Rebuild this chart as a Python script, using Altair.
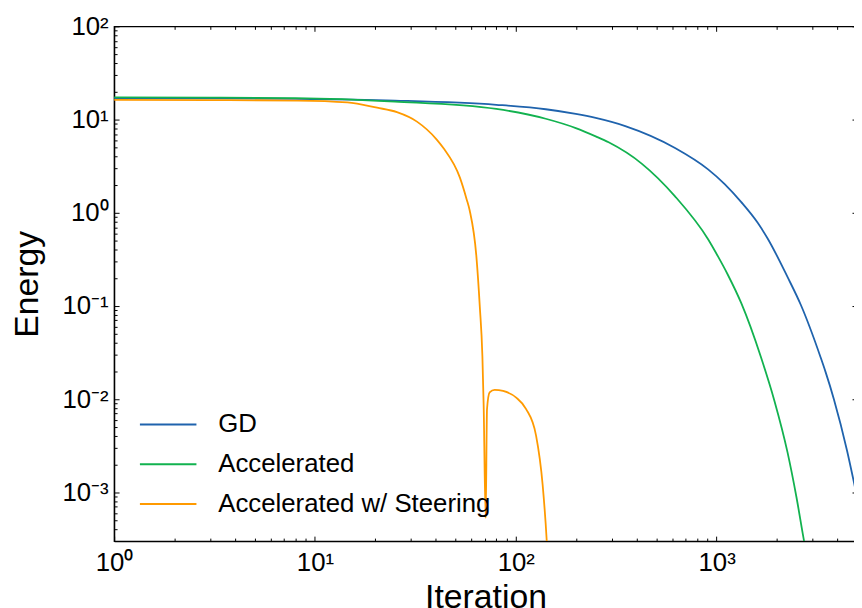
import altair as alt
import pandas as pd

# ---- data ----
gd_t = [1, 3, 8, 25, 80, 141, 199, 250, 351, 621, 907, 1097, 1327, 1602, 1795, 2254, 2625, 3297, 3490, 3837, 4463, 4911, 5000]
gd_e = [17.0, 16.9, 16.7, 16.0, 14.4, 12.9, 11.5, 10.4, 8.5, 4.95, 2.92, 2.03, 1.30, 0.78, 0.53, 0.205, 0.103, 0.028, 0.0195, 0.0100, 0.0028, 0.00108, 0.00090]

acc_t = [1, 3, 8, 25, 80, 141, 199, 250, 290, 425, 621, 907, 1016, 1139, 1327, 1665, 1938, 2254, 2500, 2726, 2900]
acc_e = [17.3, 17.2, 17.0, 15.6, 13.0, 10.2, 8.1, 6.6, 5.7, 3.35, 1.5, 0.52, 0.34, 0.215, 0.107, 0.028, 0.0097, 0.0027, 0.00088, 0.00030, 0.00015]

st_t = [1, 3, 8.2, 14.5, 20.4, 25.6, 32.2, 40.4, 43.6, 52.7, 56.9, 59.0, 63.7, 66.2, 68.2, 69.2, 70.8,
        71.9, 74.1, 78.5, 86.4, 100.5, 112.6, 126.2, 136.1, 142.5, 145]
st_e = [16.3, 16.2, 16.0, 15.3, 13.4, 12.0, 9.5, 6.1, 4.95, 2.38, 1.40, 1.05, 0.334, 0.0984, 0.0289, 0.0085, 0.00053,
        0.0078, 0.0118, 0.0126, 0.01225, 0.0104, 0.00783, 0.00407, 0.0012, 0.00031, 0.00015]

series = ["GD", "Accelerated", "Accelerated w/ Steering"]
colors = ["#1f63ad", "#12b24f", "#ff9a00"]

x_major = [1, 10, 100, 1000]
x_minor = [m * 10 ** k for k in range(0, 4) for m in range(2, 10) if m * 10 ** k <= 5000]
y_major = [0.001, 0.01, 0.1, 1, 10, 100]
y_minor = [m * 10.0 ** k for k in range(-4, 2) for m in range(2, 10) if 3.5e-4 <= m * 10.0 ** k <= 100]

x_labels = ["10⁰", "10¹", "10²", "10³"]
y_labels = ["10⁻³", "10⁻²", "10⁻¹", "10⁰", "10¹", "10²"]

rows = []
for name, ts, es in [(series[0], gd_t, gd_e), (series[1], acc_t, acc_e), (series[2], st_t, st_e)]:
    for i, (t, e) in enumerate(zip(ts, es)):
        rows.append({"series": name, "t": t, "E": e, "order": i})
df = pd.DataFrame(rows)

FONT = "Liberation Sans"
W, H = 749, 519

xscale = alt.Scale(type="log", domain=[1, 5000], nice=False)
yscale = alt.Scale(type="log", domain=[3e-4, 100], nice=False)

x_expr = "[" + ",".join("'%s'" % s for s in x_labels) + "][round(log(datum.value)/LN10)]"
y_expr = "[" + ",".join("'%s'" % s for s in y_labels) + "][round(log(datum.value)/LN10)+3]"

base = alt.Chart(df)

lines = base.mark_line(clip=True, strokeWidth=1.8, interpolate="monotone").encode(
    x=alt.X("t:Q", scale=xscale, axis=alt.Axis(
        orient="bottom", values=x_major, labelExpr=x_expr, ticks=False, grid=False,
        domainColor="black", domainWidth=1.3, labelFont=FONT, labelFontSize=26, labelColor="black",
        labelPadding=9, labelFlush=False, labelOverlap=False,
        title="Iteration", titleFont=FONT, titleFontSize=34, titleFontWeight="normal",
        titleColor="black", titlePadding=5)),
    y=alt.Y("E:Q", scale=yscale, axis=alt.Axis(
        orient="left", values=y_major, labelExpr=y_expr, ticks=False, grid=False,
        domainColor="black", domainWidth=1.3, labelFont=FONT, labelFontSize=26, labelColor="black",
        labelPadding=6, labelFlush=False, labelOverlap=False,
        title="Energy", titleFont=FONT, titleFontSize=34, titleFontWeight="normal",
        titleColor="black", titlePadding=18)),
    color=alt.Color("series:N", scale=alt.Scale(domain=series, range=colors), legend=alt.Legend(
        orient="none", legendX=39, legendY=386, title=None, symbolType="M-2,0H2", symbolSize=812,
        symbolStrokeWidth=2, labelFont=FONT, labelFontSize=26, labelColor="black", labelOffset=35,
        labelLimit=600, rowPadding=11)),
    order="order:Q",
    detail="series:N",
)


def tick_layer(xvals, yvals, xorient, yorient, size):
    enc = {}
    if xvals is not None:
        enc["x"] = alt.X("t:Q", scale=xscale, axis=alt.Axis(
            orient=xorient, values=xvals, tickSize=size, offset=-size, labels=False, domain=False,
            grid=False, title=None, tickColor="black", tickWidth=1))
    else:
        enc["x"] = alt.X("t:Q", scale=xscale, axis=None)
    if yvals is not None:
        enc["y"] = alt.Y("E:Q", scale=yscale, axis=alt.Axis(
            orient=yorient, values=yvals, tickSize=size, offset=-size, labels=False, domain=False,
            grid=False, title=None, tickColor="black", tickWidth=1))
    else:
        enc["y"] = alt.Y("E:Q", scale=yscale, axis=None)
    return base.mark_point(opacity=0, size=0).encode(**enc)


layers = [
    lines,
    tick_layer(x_major, y_major, "bottom", "left", 5),
    tick_layer(x_minor, y_minor, "bottom", "left", 3),
    tick_layer(x_major, y_major, "top", "right", 5),
    tick_layer(x_minor, None, "top", "right", 3),
]

chart = alt.layer(*layers).resolve_axis(x="independent", y="independent").properties(
    width=W, height=H,
    autosize=alt.AutoSizeParams(type="none"),
    padding={"left": 107, "top": 16, "right": -3, "bottom": 70},
).configure_view(stroke="black", strokeWidth=1.3)

chart.save("out.html", embed_options={"renderer": "svg", "actions": False})
